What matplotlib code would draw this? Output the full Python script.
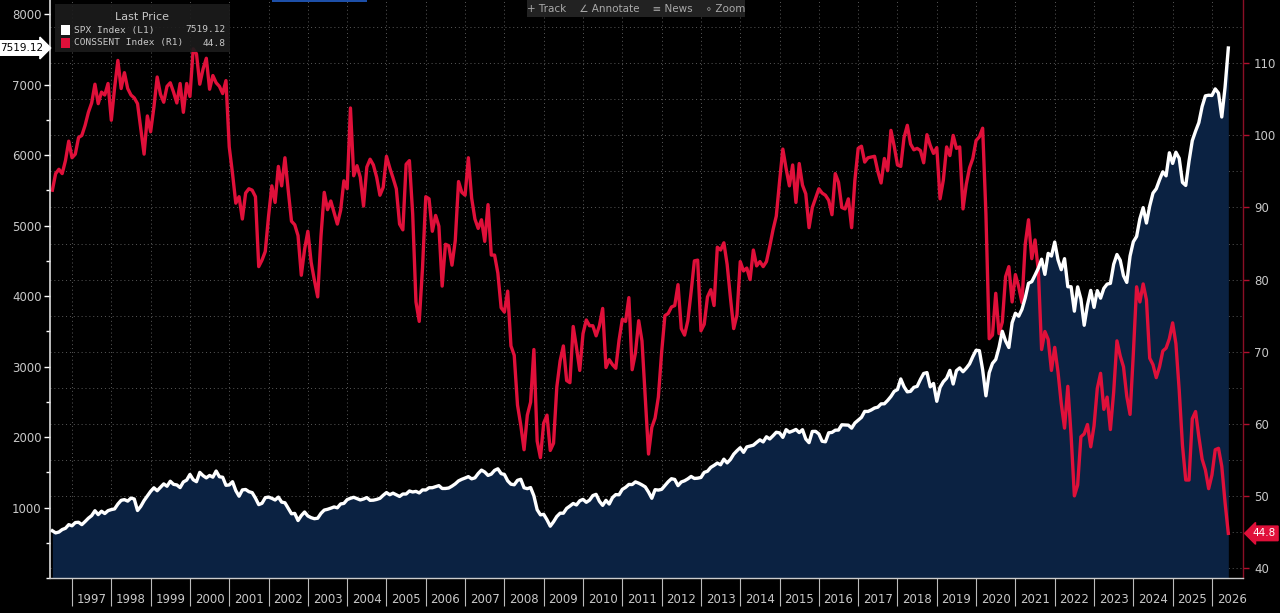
import numpy as np
import matplotlib
matplotlib.use("Agg")
import matplotlib.pyplot as plt
from matplotlib.ticker import MultipleLocator, FixedLocator, NullFormatter
from matplotlib.transforms import blended_transform_factory
from matplotlib.patches import Rectangle

# monthly series, first point = June 1996 (month-end)
start_year = 1996
start_month = 6

spx_close = [
    670.6, 639.9, 652.0, 687.3, 705.3, 757.0, 740.7,                                   # 1996
    786.2, 790.8, 757.1, 801.3, 848.3, 885.1, 954.3, 899.5, 947.3, 914.6, 955.4, 970.4,  # 1997
    980.3, 1049.3, 1101.8, 1111.8, 1090.8, 1133.8, 1120.7, 957.3, 1017.0, 1098.7, 1163.6, 1229.2,
    1279.6, 1238.3, 1286.4, 1335.2, 1301.8, 1372.7, 1328.7, 1320.4, 1282.7, 1362.9, 1388.9, 1469.3,
    1394.5, 1366.4, 1498.6, 1452.4, 1420.6, 1454.6, 1430.8, 1517.7, 1436.5, 1429.4, 1315.2, 1320.3,
    1366.0, 1239.9, 1160.3, 1249.5, 1255.8, 1224.4, 1211.2, 1133.6, 1040.9, 1059.8, 1139.5, 1148.1,
    1130.2, 1106.7, 1147.4, 1076.9, 1067.1, 989.8, 911.6, 916.1, 815.3, 885.8, 936.3, 879.8,
    855.7, 841.2, 848.2, 916.9, 963.6, 974.5, 990.3, 1008.0, 996.0, 1050.7, 1058.2, 1111.9,
    1131.1, 1144.9, 1126.2, 1107.3, 1120.7, 1140.8, 1101.7, 1104.2, 1114.6, 1130.2, 1173.8, 1211.9,
    1181.3, 1203.6, 1180.6, 1156.9, 1191.5, 1191.3, 1234.2, 1220.3, 1228.8, 1207.0, 1249.5, 1248.3,
    1280.1, 1280.7, 1294.9, 1310.6, 1270.1, 1270.2, 1276.7, 1303.8, 1335.9, 1377.9, 1400.6, 1418.3,
    1438.2, 1406.8, 1420.9, 1482.4, 1530.6, 1503.4, 1455.3, 1474.0, 1526.8, 1549.4, 1481.1, 1468.4,
    1378.6, 1330.6, 1322.7, 1385.6, 1400.4, 1280.0, 1267.4, 1282.8, 1166.4, 968.8, 896.2, 903.3,
    825.9, 735.1, 797.9, 872.8, 919.1, 919.3, 987.5, 1020.6, 1057.1, 1036.2, 1095.6, 1115.1,
    1073.9, 1104.5, 1169.4, 1186.7, 1089.4, 1030.7, 1101.6, 1049.3, 1141.2, 1183.3, 1180.6, 1257.6,
    1286.1, 1327.2, 1325.8, 1363.6, 1345.2, 1320.6, 1292.3, 1218.9, 1131.4, 1253.3, 1247.0, 1257.6,
    1312.4, 1365.7, 1408.5, 1397.9, 1310.3, 1362.2, 1379.3, 1406.6, 1440.7, 1412.2, 1416.2, 1426.2,
    1498.1, 1514.7, 1569.2, 1597.6, 1630.7, 1606.3, 1685.7, 1633.0, 1681.6, 1756.5, 1805.8, 1848.4,
    1782.6, 1859.5, 1872.3, 1883.9, 1923.6, 1960.2, 1930.7, 2003.4, 1972.3, 2018.1, 2067.6, 2058.9,
    1995.0, 2104.5, 2067.9, 2085.5, 2107.4, 2063.1, 2103.8, 1972.2, 1920.0, 2079.4, 2080.4, 2043.9,
    1940.2, 1932.2, 2059.7, 2065.3, 2096.9, 2098.9, 2173.6, 2170.9, 2168.3, 2126.2, 2199.0, 2238.8,
    2278.9, 2363.6, 2362.7, 2384.2, 2411.8, 2423.4, 2470.3, 2471.7, 2519.4, 2575.3, 2647.6, 2673.6,
    2823.8, 2713.8, 2640.9, 2648.1, 2705.3, 2718.4, 2816.3, 2901.5, 2914.0, 2711.7, 2760.2, 2506.9,
    2704.1, 2784.5, 2834.4, 2945.8, 2752.1, 2941.8, 2980.4, 2926.5, 2976.7, 3037.6, 3141.0, 3230.8,
    3225.5, 2954.2, 2584.6, 2912.4, 3044.3, 3100.3, 3271.1, 3500.3, 3363.0, 3270.0, 3621.6, 3756.1,
    3714.2, 3811.2, 3972.9, 4181.2, 4204.1, 4297.5, 4395.3, 4522.7, 4307.5, 4605.4, 4567.0, 4766.2,
    4515.6, 4373.9, 4530.4, 4131.9, 4132.2, 3785.4, 4130.3, 3955.0, 3585.6, 3872.0, 4080.1, 3839.5,
    4076.6, 3970.2, 4109.3, 4169.5, 4179.8, 4450.4, 4589.0, 4507.7, 4288.1, 4193.8, 4567.8, 4769.8,
    4845.7, 5096.3, 5254.4, 5035.7, 5277.5, 5460.5, 5522.3, 5648.4, 5762.5, 5705.5, 6032.4, 5881.6,
    6040.5, 5954.5, 5611.9, 5569.1, 5911.7, 6205.0, 6339.4, 6460.3, 6688.5, 6840.2, 6849.1, 6845.5,
    6939.0, 6880.0, 6540.0, 6960.0, 7519.12,                                             # 2026
]

cons_sent = [
    92.4, 94.7, 95.3, 94.7, 96.5, 99.2, 96.9,                                           # 1996
    97.4, 99.7, 100.0, 101.4, 103.2, 104.5, 107.1, 104.4, 106.0, 105.6, 107.2, 102.1,   # 1997
    106.6, 110.4, 106.5, 108.7, 106.5, 105.6, 105.2, 104.4, 100.9, 97.4, 102.7, 100.5,
    103.9, 108.1, 105.7, 104.6, 106.8, 107.3, 106.0, 104.5, 107.2, 103.2, 107.2, 105.4,
    112.0, 111.3, 107.1, 109.2, 110.7, 106.4, 108.3, 107.3, 106.8, 105.8, 107.6, 98.4,
    94.7, 90.6, 91.5, 88.4, 92.0, 92.6, 92.4, 91.5, 81.8, 82.7, 83.9, 88.8,
    93.0, 90.7, 95.7, 93.0, 96.9, 92.4, 88.1, 87.6, 86.1, 80.6, 84.2, 86.7,
    82.4, 79.9, 77.6, 86.0, 92.1, 89.7, 90.9, 89.3, 87.7, 89.6, 93.7, 92.6,
    103.8, 94.4, 95.8, 94.2, 90.2, 95.6, 96.7, 95.9, 94.2, 91.7, 92.8, 97.1,
    95.5, 94.1, 92.6, 87.7, 86.9, 96.0, 96.5, 89.1, 76.9, 74.2, 81.6, 91.5,
    91.2, 86.7, 88.9, 87.4, 79.1, 84.9, 84.7, 82.0, 85.4, 93.6, 92.1, 91.7,
    96.9, 91.3, 88.4, 87.1, 88.3, 85.3, 90.4, 83.4, 83.4, 80.9, 76.1, 75.5,
    78.4, 70.8, 69.5, 62.6, 59.8, 56.4, 61.2, 63.0, 70.3, 57.6, 55.3, 60.1,
    61.2, 56.3, 57.3, 65.1, 68.7, 70.8, 66.0, 65.7, 73.5, 70.6, 67.4, 72.5,
    74.4, 73.6, 73.6, 72.2, 73.6, 76.0, 67.8, 68.9, 68.2, 67.7, 71.6, 74.5,
    74.2, 77.5, 67.5, 69.8, 74.3, 71.5, 63.7, 55.8, 59.5, 60.8, 63.7, 69.9,
    75.0, 75.3, 76.2, 76.4, 79.3, 73.2, 72.3, 74.3, 78.3, 82.6, 82.7, 72.9,
    73.8, 77.6, 78.6, 76.4, 84.5, 84.1, 85.1, 82.1, 77.5, 73.2, 75.1, 82.5,
    81.2, 81.6, 80.0, 84.1, 81.9, 82.5, 81.8, 82.5, 84.6, 86.9, 88.8, 93.6,
    98.1, 95.4, 93.0, 95.9, 90.7, 96.1, 93.1, 91.9, 87.2, 90.0, 91.3, 92.6,
    92.0, 91.7, 91.0, 89.0, 94.7, 93.5, 90.0, 89.8, 91.2, 87.2, 93.8, 98.2,
    98.5, 96.3, 96.9, 97.0, 97.1, 95.0, 93.4, 96.8, 95.1, 100.7, 98.5, 95.9,
    95.7, 99.7, 101.4, 98.8, 98.0, 98.2, 97.9, 96.2, 100.1, 98.6, 97.5, 98.3,
    91.2, 93.8, 98.4, 97.2, 100.0, 98.2, 98.4, 89.8, 93.2, 95.5, 96.8, 99.3,
    99.8, 101.0, 89.1, 71.8, 72.3, 78.1, 72.5, 74.1, 80.4, 81.8, 76.9, 80.7,
    79.0, 76.8, 84.9, 88.3, 82.9, 85.5, 81.2, 70.3, 72.8, 71.7, 67.4, 70.6,
    67.2, 62.8, 59.4, 65.2, 58.4, 50.0, 51.5, 58.2, 58.6, 59.9, 56.8, 59.7,
    64.9, 67.0, 62.0, 63.7, 59.2, 64.4, 71.5, 69.4, 67.9, 63.8, 61.3, 69.7,
    79.0, 76.9, 79.4, 77.2, 69.1, 68.2, 66.4, 67.9, 70.1, 70.5, 71.8, 74.0,
    71.1, 64.7, 57.0, 52.2, 52.2, 60.7, 61.7, 58.2, 55.1, 53.6, 51.0, 52.9,
    56.4, 56.6, 54.1, 49.1, 44.8,                                                       # 2026
]

year_labels = list(range(1997, 2027))

# month-end positions in fractional years
n = len(spx_close)
t = start_year + (start_month + np.arange(n)) / 12.0

bg = "#000000"
navy = "#0b2242"
red = "#e0103a"
txt = "#c8c8c8"
grid_c = "#5a5a5a"

fig = plt.figure(figsize=(12.8, 6.13), dpi=100, facecolor=bg)
ax = fig.add_axes([50 / 1280, 35 / 613, 1193 / 1280, 578 / 613])
ax.set_facecolor(bg)
ax2 = ax.twinx()

ax.set_xlim(1996.44, 2026.79)
ax.set_ylim(0, 8200)
ax2.set_ylim(38.61, 118.78)

# SPX area sits under the red line, so draw it on ax2 in ax2 units
lo, hi = ax2.get_ylim()
spx_arr = np.array(spx_close)
ax2.fill_between(t, lo + spx_arr / 8200 * (hi - lo), lo, color=navy, lw=0, zorder=1)
ax2.plot(t, cons_sent, color=red, lw=2.4, solid_joinstyle="round", zorder=3)

# white SPX line on top
ax.set_zorder(ax2.get_zorder() + 1)
ax.patch.set_visible(False)
ax.plot(t, spx_close, color="white", lw=2.4, solid_joinstyle="round", zorder=4)

# x axis: ticks at year boundaries, labels mid-year
ax.xaxis.set_major_locator(FixedLocator(year_labels))
ax.xaxis.set_major_formatter(NullFormatter())
ax.xaxis.set_minor_locator(FixedLocator([y + 0.5 for y in year_labels]))
ax.set_xticklabels([str(y) for y in year_labels], minor=True)
ax.tick_params(axis="x", which="major", length=20, width=0.8, color="#bbbbbb", direction="out")
ax.tick_params(axis="x", which="minor", length=0, pad=11, labelsize=8.5, labelcolor=txt)

# left axis
ax.yaxis.set_major_locator(FixedLocator(np.arange(1000, 8001, 1000)))
ax.yaxis.set_minor_locator(MultipleLocator(500))
ax.tick_params(axis="y", which="major", length=4, width=1, color="white", labelsize=8.5, labelcolor=txt, pad=2)
ax.tick_params(axis="y", which="minor", length=3, width=1, color="white")

# right axis
ax2.yaxis.set_major_locator(FixedLocator(np.arange(40, 111, 10)))
ax2.tick_params(axis="y", which="major", length=4, width=1, color="#b0102e", labelsize=8.5, labelcolor=txt, pad=4)

# horizontal grid on the right scale, vertical grid at year boundaries
for v in np.arange(40, 116, 5):
    ax2.axhline(v, color=grid_c, lw=0.7, ls=(0, (1, 3)), zorder=0.5)
for y in year_labels:
    ax2.axvline(y, color=grid_c, lw=0.7, ls=(0, (1, 3)), zorder=0.5)

for a in (ax, ax2):
    for s in a.spines.values():
        s.set_visible(False)
ax.spines["left"].set_visible(True)
ax.spines["left"].set_color("#dddddd")
ax.spines["left"].set_linewidth(1.2)
ax.spines["bottom"].set_visible(True)
ax.spines["bottom"].set_color("#cccccc")
ax.spines["bottom"].set_linewidth(1.0)
ax2.spines["right"].set_visible(True)
ax2.spines["right"].set_color("#8a0f25")
ax2.spines["right"].set_linewidth(1.0)

# last-price tags
tl = blended_transform_factory(ax.transAxes, ax.transData)
ax.text(-0.006, spx_close[-1], f"{spx_close[-1]:.2f}", transform=tl, ha="right", va="center",
        fontsize=7.5, color="black", clip_on=False, zorder=10,
        bbox=dict(boxstyle="rarrow,pad=0.22", fc="white", ec="white"))
tr = blended_transform_factory(ax2.transAxes, ax2.transData)
ax2.text(1.008, cons_sent[-1], f"{cons_sent[-1]:.1f}", transform=tr, ha="left", va="center",
         fontsize=7.5, color="white", clip_on=False, zorder=10,
         bbox=dict(boxstyle="larrow,pad=0.22", fc=red, ec=red))

# legend box
fig.patches.append(Rectangle((55 / 1280, 1 - 52 / 613), 175 / 1280, 48 / 613,
                             transform=fig.transFigure, fc="#1c1c1c", ec="none", alpha=0.9, zorder=20))
fig.text(142 / 1280, 1 - 17 / 613, "Last Price", ha="center", va="center", fontsize=8, color=txt, zorder=21)
rows = [("SPX Index (L1)", f"{spx_close[-1]:.2f}", "white", 30),
        ("CONSSENT Index (R1)", f"{cons_sent[-1]:.1f}", red, 43)]
for name, val, c, ypx in rows:
    fig.patches.append(Rectangle((61 / 1280, 1 - (ypx + 5) / 613), 9 / 1280, 10 / 613,
                                 transform=fig.transFigure, fc=c, ec="none", zorder=21))
    fig.text(74 / 1280, 1 - ypx / 613, name, ha="left", va="center", fontsize=6.8,
             family="DejaVu Sans Mono", color=txt, zorder=21)
    fig.text(226 / 1280, 1 - ypx / 613, val, ha="right", va="center", fontsize=6.8,
             family="DejaVu Sans Mono", color=txt, zorder=21)

# toolbar
fig.patches.append(Rectangle((527 / 1280, 1 - 17 / 613), 218 / 1280, 17 / 613,
                             transform=fig.transFigure, fc="#222222", ec="none", zorder=20))
fig.text(636 / 1280, 1 - 9 / 613, "+ Track    \u2220 Annotate    \u2261 News    \u2218 Zoom",
         ha="center", va="center", fontsize=7.5, color="#aaaaaa", zorder=21)
fig.patches.append(Rectangle((272 / 1280, 1 - 2 / 613), 95 / 1280, 2 / 613,
                             transform=fig.transFigure, fc="#1d4fa8", ec="none", zorder=20))

fig.savefig("out.png", dpi=100, facecolor=bg)
